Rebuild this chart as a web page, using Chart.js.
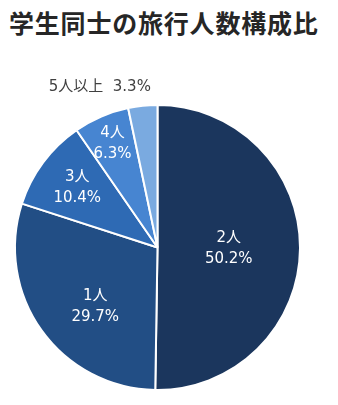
<!DOCTYPE html>
<html>
<head>
<meta charset="utf-8">
<script src="https://cdn.jsdelivr.net/npm/chart.js@4.4.1/dist/chart.umd.min.js"></script>
<style>
  html, body { margin: 0; padding: 0; background: #fff; }
  #wrap { position: relative; width: 338px; height: 405px; }
  h1 {
    position: absolute; left: 9px; top: 4px; margin: 0;
    font: bold 25px "Noto Sans CJK JP", sans-serif; color: #262626;
    letter-spacing: 0.8px; white-space: nowrap;
  }
  canvas { position: absolute; left: 0; top: 0; }
</style>
</head>
<body>
<div id="wrap">
  <h1>学生同士の旅行人数構成比</h1>
  <canvas id="chart" width="338" height="405"></canvas>
</div>
<script>
// ===== data =====
const categories = ["2人", "1人", "3人", "4人", "5人以上"];
const shares = [50.2, 29.7, 10.4, 6.3, 3.3];
const sliceColors = ["#1b365d", "#224e85", "#2e6ab4", "#4785d1", "#7aaae0"];

// label placement (fraction of radius + nudge), last one sits outside the pie
const labelRadius = [0.5, 0.58, 0.72, 0.8, 1.13];
const labelShiftX = [0, 5, 2, 0, -41];
const labelShiftY = [1, 11, 1, 1, 0];

const sliceLabels = {
  id: "sliceLabels",
  afterDatasetsDraw(chart) {
    const ctx = chart.ctx;
    const arcs = chart.getDatasetMeta(0).data;
    ctx.save();
    ctx.font = '15px "DejaVu Sans", "Noto Sans CJK JP", sans-serif';
    ctx.textAlign = "center";
    ctx.textBaseline = "middle";
    arcs.forEach((arc, i) => {
      const mid = (arc.startAngle + arc.endAngle) / 2;
      const r = arc.outerRadius * labelRadius[i];
      const x = arc.x + Math.cos(mid) * r + labelShiftX[i];
      const y = arc.y + Math.sin(mid) * r + labelShiftY[i];
      const pct = shares[i].toFixed(1) + "%";
      if (labelRadius[i] > 1) {
        ctx.fillStyle = "#404040";
        ctx.fillText(categories[i] + "  " + pct, x, y);
      } else {
        ctx.fillStyle = "#ffffff";
        ctx.fillText(categories[i], x, y - 10.5);
        ctx.fillText(pct, x, y + 10.5);
      }
    });
    ctx.restore();
  }
};

new Chart(document.getElementById("chart"), {
  type: "pie",
  data: {
    labels: categories,
    datasets: [{
      data: shares,
      backgroundColor: sliceColors,
      borderColor: "#ffffff",
      borderWidth: 2
    }]
  },
  options: {
    responsive: false,
    animation: false,
    layout: { padding: { left: 14, right: 37, top: 104, bottom: 14 } },
    plugins: {
      legend: { display: false },
      tooltip: { enabled: false }
    }
  },
  plugins: [sliceLabels]
});
</script>
</body>
</html>
